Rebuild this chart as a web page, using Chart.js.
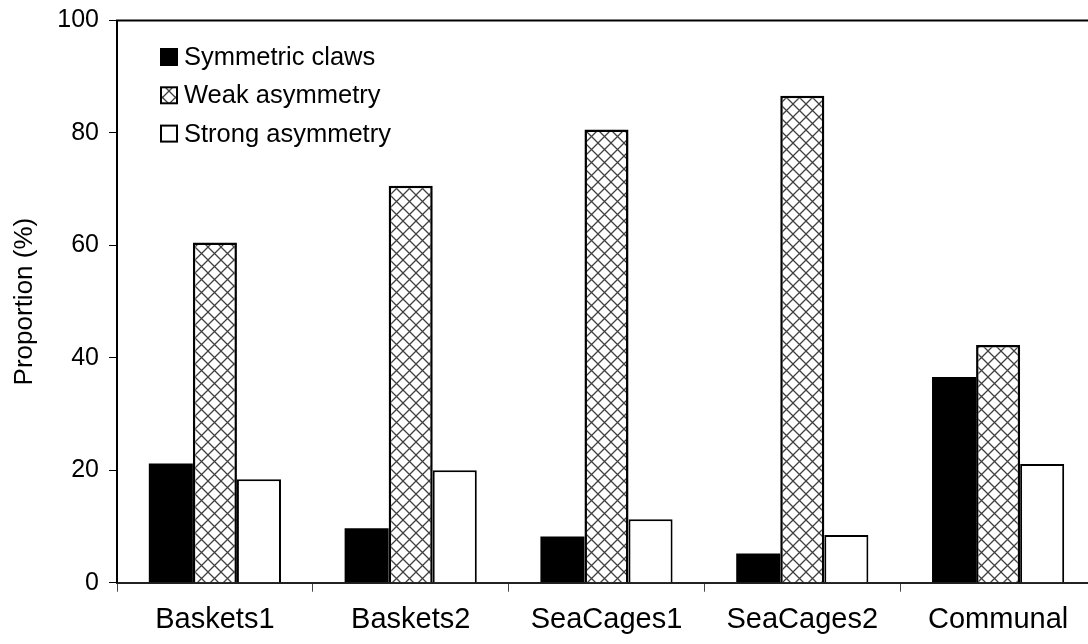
<!DOCTYPE html>
<html>
<head>
<meta charset="utf-8">
<script src="https://cdn.jsdelivr.net/npm/chart.js@4.4.1/dist/chart.umd.min.js"></script>
<style>
  html, body { margin: 0; padding: 0; background: #fff; overflow: hidden; }
  #wrap { position: absolute; left: 0; top: 0; width: 1096px; height: 644px; }
</style>
</head>
<body>
<div id="wrap"><canvas id="chart"></canvas></div>
<script>
// Claw asymmetry by rearing system (%)
const categories = ['Baskets1', 'Baskets2', 'SeaCages1', 'SeaCages2', 'Communal'];
const symmetric = [21.2, 9.7, 8.2, 5.2, 36.6];
const weak = [60.5, 70.6, 80.6, 86.6, 42.3];
const strong = [18.4, 20.0, 11.3, 8.5, 21.1];
const yTicks = [0, 20, 40, 60, 80, 100];

const FONT = "'Liberation Sans', Arial, sans-serif";

function crossHatch() {
  const c = document.createElement('canvas');
  c.width = 13; c.height = 13;
  const g = c.getContext('2d');
  g.fillStyle = '#fff';
  g.fillRect(0, 0, 13, 13);
  g.strokeStyle = '#404040';
  g.lineWidth = 1.3;
  g.beginPath();
  g.moveTo(-1, -1); g.lineTo(14, 14);
  g.moveTo(14, -1); g.lineTo(-1, 14);
  g.stroke();
  return g.createPattern(c, 'repeat');
}

// legend box in the upper left of the plot
const boxLegend = {
  id: 'boxLegend',
  afterDraw(chart) {
    const ctx = chart.ctx;
    ctx.save();
    ctx.font = '25.5px ' + FONT;
    ctx.textBaseline = 'middle';
    chart.data.datasets.forEach((ds, i) => {
      const y = 57 + i * 38.3;
      ctx.fillStyle = ds.backgroundColor;
      ctx.fillRect(161, y - 8, 16, 16);
      ctx.lineWidth = 2;
      ctx.strokeStyle = '#000';
      ctx.strokeRect(161, y - 8, 16, 16);
      ctx.fillStyle = '#000';
      ctx.fillText(ds.label, 184, y + 1);
    });
    ctx.restore();
  }
};

// top edge of the plot frame
const topFrame = {
  id: 'topFrame',
  afterDraw(chart) {
    const { ctx, chartArea } = chart;
    ctx.save();
    ctx.strokeStyle = '#000';
    ctx.lineWidth = 2;
    ctx.beginPath();
    ctx.moveTo(chartArea.left - 1, chartArea.top);
    ctx.lineTo(chartArea.right, chartArea.top);
    ctx.stroke();
    ctx.restore();
  }
};

new Chart(document.getElementById('chart'), {
  type: 'bar',
  data: {
    labels: categories,
    datasets: [
      { label: 'Symmetric claws', data: symmetric, backgroundColor: '#000', borderColor: '#000', borderWidth: 0 },
      { label: 'Weak asymmetry', data: weak, backgroundColor: crossHatch(), borderColor: '#000', borderWidth: 2.5 },
      { label: 'Strong asymmetry', data: strong, backgroundColor: '#fff', borderColor: '#000', borderWidth: 2 }
    ]
  },
  options: {
    responsive: true,
    maintainAspectRatio: false,
    animation: false,
    categoryPercentage: 0.675,
    barPercentage: 1.0,
    layout: { padding: { top: 20.5, right: 0, bottom: 0, left: 0 } },
    plugins: { legend: { display: false }, tooltip: { enabled: false } },
    scales: {
      x: {
        grid: { offset: true, drawOnChartArea: false, drawTicks: true, tickLength: 9, color: '#444', lineWidth: 1 },
        border: { display: true, color: '#222', width: 2 },
        ticks: { font: { family: FONT, size: 29 }, color: '#000', padding: 11, maxRotation: 0, autoSkip: false },
        afterFit: s => { s.height = 61.3; s.paddingLeft = 0; s.paddingRight = 0; }
      },
      y: {
        min: 0,
        max: 100,
        afterBuildTicks: s => { s.ticks = yTicks.map(v => ({ value: v })); },
        grid: { drawOnChartArea: false, drawTicks: true, tickLength: 8, color: '#000', lineWidth: 1 },
        border: { display: true, color: '#000', width: 2 },
        ticks: { font: { family: FONT, size: 25 }, color: '#000', padding: 10 },
        title: { display: true, text: 'Proportion (%)', color: '#000', font: { family: FONT, size: 26 }, padding: { top: 9, bottom: 0 } },
        afterFit: s => { s.width = 117; s.paddingTop = 0; s.paddingBottom = 0; }
      }
    }
  },
  plugins: [boxLegend, topFrame]
});
</script>
</body>
</html>
